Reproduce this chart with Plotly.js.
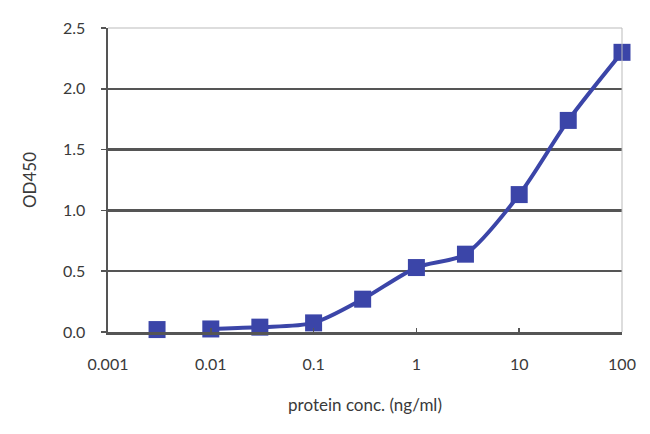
<!DOCTYPE html>
<html><head><meta charset="utf-8">
<script src="https://cdn.plot.ly/plotly-3.0.1.min.js"></script>
<style>html,body{margin:0;padding:0;background:#fff}#c{width:650px;height:434px}</style>
</head><body><div id="c"></div>
<script>
// Data
const blankConc = [0.003];
const blankOD = [0.02];
const conc = [0.01, 0.03, 0.1, 0.3, 1, 3, 10, 30, 100];
const od = [0.025, 0.04, 0.075, 0.27, 0.53, 0.64, 1.13, 1.74, 2.30];
const xTickVals = [0.001, 0.01, 0.1, 1, 10, 100];
const xTickText = ['0.001', '0.01', '0.1', '1', '10', '100'];
const yTickVals = [0, 0.5, 1, 1.5, 2, 2.5];
const yTickText = ['0.0', '0.5', '1.0', '1.5', '2.0', '2.5'];

const blue = '#3B45A8';
const font = {family: 'Lato, "Open Sans", sans-serif', size: 16, color: '#3a3a3a'};
const titleFont = {family: 'Lato, "Open Sans", sans-serif', size: 17, color: '#3a3a3a'};

const traces = [
  {x: blankConc, y: blankOD, type: 'scatter', mode: 'markers',
   marker: {symbol: 'square', size: 17, color: blue}, showlegend: false, cliponaxis: false},
  {x: conc, y: od, type: 'scatter', mode: 'lines+markers',
   line: {color: blue, width: 4, shape: 'spline', smoothing: 0.8},
   marker: {symbol: 'square', size: 17, color: blue}, showlegend: false, cliponaxis: false}
];

const layout = {
  width: 650, height: 434,
  margin: {l: 108, r: 28, t: 28, b: 102},
  paper_bgcolor: '#fff', plot_bgcolor: '#fff',
  font: font,
  xaxis: {
    type: 'log', range: [-3, 2],
    tickvals: xTickVals, ticktext: xTickText,
    ticks: 'inside', ticklen: 4, tickcolor: '#555', tickwidth: 1.5,
    ticklabelstandoff: 16,
    showgrid: false, zeroline: false,
    showline: true, linecolor: '#555', linewidth: 2.5, mirror: false,
    tickfont: font,
    title: {text: 'protein conc. (ng/ml)', font: titleFont, standoff: 28}
  },
  yaxis: {
    range: [0, 2.5],
    tickvals: yTickVals, ticktext: yTickText,
    ticks: 'outside', ticklen: 5, tickcolor: '#555', tickwidth: 1.5,
    ticklabelstandoff: 12,
    showgrid: true, gridcolor: '#555', gridwidth: 2.5,
    zeroline: false,
    showline: true, linecolor: '#555', linewidth: 2.5,
    tickfont: font,
    title: {text: 'OD450', font: titleFont, standoff: 22}
  },
  shapes: [
    {type: 'line', xref: 'paper', yref: 'paper', x0: 0, x1: 1, y0: 1, y1: 1, line: {color: '#bbb', width: 1}},
    {type: 'line', xref: 'paper', yref: 'paper', x0: 1, x1: 1, y0: 0, y1: 1, line: {color: '#bbb', width: 1}}
  ]
};

Plotly.newPlot('c', traces, layout, {staticPlot: true, displayModeBar: false});
</script></body></html>
